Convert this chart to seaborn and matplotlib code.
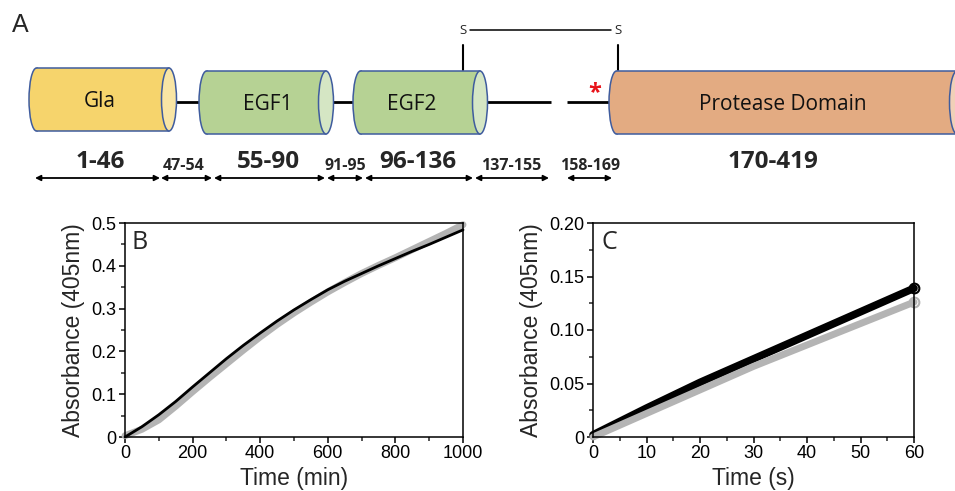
import numpy as np
import pandas as pd
import matplotlib
matplotlib.use("Agg")
import matplotlib.pyplot as plt
from matplotlib.patches import Ellipse, Rectangle
from matplotlib.ticker import FixedLocator, MultipleLocator, FixedFormatter
import seaborn as sns

# ---------------- data ----------------
domain_names = ["Gla", "EGF1", "EGF2", "Protease Domain"]
range_labels = ["1-46", "47-54", "55-90", "91-95", "96-136", "137-155", "158-169", "170-419"]
range_big = [True, False, True, False, True, False, False, True]

b_time = [0, 50, 100, 150, 200, 250, 300, 350, 400, 450, 500,
          550, 600, 650, 700, 750, 800, 850, 900, 950, 1000]
b_black = [0.0, 0.024, 0.052, 0.083, 0.117, 0.150, 0.183, 0.214, 0.243, 0.271, 0.297,
           0.321, 0.344, 0.364, 0.382, 0.400, 0.417, 0.434, 0.450, 0.467, 0.484]
b_gray = [0.003, 0.018, 0.040, 0.072, 0.106, 0.139, 0.171, 0.203, 0.234, 0.263, 0.290,
          0.315, 0.339, 0.361, 0.382, 0.401, 0.419, 0.438, 0.457, 0.476, 0.496]

c_time = [0, 10, 20, 30, 40, 50, 60]
c_black = [0.002, 0.027, 0.051, 0.073, 0.095, 0.117, 0.139]
c_gray = [0.000, 0.022, 0.044, 0.066, 0.086, 0.106, 0.126]

b_yticks = [0, 0.1, 0.2, 0.3, 0.4, 0.5]
b_yticklabels = ["0", "0.1", "0.2", "0.3", "0.4", "0.5"]
b_xticks = [0, 200, 400, 600, 800, 1000]
c_yticks = [0, 0.05, 0.10, 0.15, 0.20]
c_yticklabels = ["0", "0.05", "0.10", "0.15", "0.20"]
c_xticks = [0, 10, 20, 30, 40, 50, 60]

# ---------------- layout / style (pixels) ----------------
W, H = 955, 491
dom_left = [29, 199, 353, 609]
dom_cap = [169, 326, 480, 957]
dom_top = [68, 71, 71, 71]
dom_bot = [131, 134, 134, 134]
dom_label_x = [100, 268, 412, 783]
dom_colors = [("#F6D46C", "#F9E5A4"), ("#B6D294", "#D5E6C4"),
              ("#B6D294", "#D5E6C4"), ("#E3AB82", "#F1D0B8")]
outline = "#3F5C9E"
linkers = [(172, 199), (333, 353), (487, 551), (567, 609)]
arrow_spans = [(35, 160), (161, 212), (214, 325), (327, 363), (365, 473),
               (475, 549), (567, 612), (613, 962)]
arrow_label_x = [100, 184, 268, 345, 418, 511, 590, 773]
DIA_FONT = ["Open Sans", "DejaVu Sans"]

sns.set_theme(style="ticks")
plt.rcParams["font.family"] = ["Liberation Sans", "DejaVu Sans"]

fig = plt.figure(figsize=(W / 100, H / 100), dpi=100)

# ---------- schematic (panel A) ----------
axd = fig.add_axes([0, 0, 1, 1])
axd.set_xlim(0, W)
axd.set_ylim(H, 0)
axd.axis("off")
axd.patch.set_visible(False)

for name, x0, xc, yt, yb, (body, cap), lx in zip(domain_names, dom_left, dom_cap,
                                                  dom_top, dom_bot, dom_colors, dom_label_x):
    cy = (yt + yb) / 2
    h = yb - yt
    ew = 15
    axd.add_patch(Ellipse((x0 + ew / 2, cy), ew, h, facecolor=body, edgecolor=outline, lw=1.1, zorder=2))
    axd.add_patch(Rectangle((x0 + ew / 2, yt), xc - x0 - ew / 2, h, facecolor=body, edgecolor="none", zorder=3))
    axd.plot([x0 + ew / 2, xc], [yt, yt], color=outline, lw=1.1, zorder=4)
    axd.plot([x0 + ew / 2, xc], [yb, yb], color=outline, lw=1.1, zorder=4)
    axd.add_patch(Ellipse((xc, cy), ew, h, facecolor=cap, edgecolor=outline, lw=1.1, zorder=5))
    axd.text(lx, cy + 2, name, ha="center", va="center", fontsize=15,
             family=DIA_FONT, color="#111111", zorder=6)

for a, b in linkers:
    axd.plot([a, b], [102, 102], color="black", lw=2, zorder=1, solid_capstyle="butt")

# disulfide bond
for sx in (463, 618):
    axd.plot([sx, sx], [45, 70], color="black", lw=1.5, zorder=1)
    axd.text(sx, 30, "S", ha="center", va="center", fontsize=9.5, family=DIA_FONT)
axd.plot([470, 611], [30, 30], color="black", lw=1.1)

axd.text(595, 93, "*", ha="center", va="center", fontsize=17, color="#E8141B",
         fontweight="bold", family=DIA_FONT)
axd.text(20, 25, "A", ha="center", va="center", fontsize=18)

for (a, b), lab, big, lx in zip(arrow_spans, range_labels, range_big, arrow_label_x):
    axd.annotate("", xy=(b, 178), xytext=(a, 178),
                 arrowprops=dict(arrowstyle="<|-|>", lw=1.3, color="black",
                                 mutation_scale=8, shrinkA=0, shrinkB=0))
    if big:
        axd.text(lx, 162, lab, ha="center", va="center", fontsize=17.5, fontweight="bold",
                 family=DIA_FONT)
    else:
        axd.text(lx, 166, lab, ha="center", va="center", fontsize=11.5, fontweight="bold",
                 family=DIA_FONT)

# ---------- panels B and C ----------
def style_axes(ax):
    for s in ax.spines.values():
        s.set_visible(True)
        s.set_linewidth(1.1)
        s.set_color("black")
    ax.tick_params(which="major", direction="out", length=4, width=1.1,
                   labelsize=13, colors="black", pad=2)
    ax.tick_params(which="minor", direction="out", length=3, width=1.1)
    ax.grid(False)
    ax.set_facecolor("white")

axB = fig.add_axes([125 / W, 1 - 437 / H, 338 / W, 214 / H])
dfB = pd.DataFrame({"time": b_time * 2, "abs": b_gray + b_black,
                    "trace": ["gray"] * len(b_time) + ["black"] * len(b_time)})
sns.lineplot(data=dfB[dfB.trace == "gray"], x="time", y="abs", ax=axB, color="#B4B4B4",
             lw=5, solid_capstyle="round")
sns.lineplot(data=dfB[dfB.trace == "black"], x="time", y="abs", ax=axB, color="black",
             lw=2)
axB.set_xlim(0, 1000)
axB.set_ylim(0, 0.5)
axB.xaxis.set_major_locator(FixedLocator(b_xticks))
axB.xaxis.set_minor_locator(MultipleLocator(100))
axB.yaxis.set_major_locator(FixedLocator(b_yticks))
axB.yaxis.set_major_formatter(FixedFormatter(b_yticklabels))
axB.yaxis.set_minor_locator(MultipleLocator(0.05))
style_axes(axB)
axB.set_xlabel("Time (min)", fontsize=16.5, labelpad=3)
axB.set_ylabel("Absorbance (405nm)", fontsize=16.5, labelpad=5)
axB.text(0.02, 0.965, "B", transform=axB.transAxes, ha="left", va="top", fontsize=18,
         family=DIA_FONT)
for l in axB.lines:
    l.set_clip_on(False)

axC = fig.add_axes([593 / W, 1 - 437 / H, 321 / W, 214 / H])
dfC = pd.DataFrame({"time": c_time * 2, "abs": c_gray + c_black,
                    "trace": ["gray"] * len(c_time) + ["black"] * len(c_time)})
sns.lineplot(data=dfC[dfC.trace == "black"], x="time", y="abs", ax=axC, color="black",
             lw=5.5)
sns.lineplot(data=dfC[dfC.trace == "gray"], x="time", y="abs", ax=axC, color="#B4B4B4",
             lw=5)
axC.plot(c_time[-1:], c_gray[-1:], marker="o", ms=7, mfc="none", mec="#B4B4B4", mew=1.5, clip_on=False)
axC.plot(c_time[-1:], c_black[-1:], marker="o", ms=7, mfc="none", mec="black", mew=1.5, clip_on=False)
axC.set_xlim(0, 60)
axC.set_ylim(0, 0.20)
axC.xaxis.set_major_locator(FixedLocator(c_xticks))
axC.xaxis.set_minor_locator(MultipleLocator(5))
axC.yaxis.set_major_locator(FixedLocator(c_yticks))
axC.yaxis.set_major_formatter(FixedFormatter(c_yticklabels))
axC.yaxis.set_minor_locator(MultipleLocator(0.025))
style_axes(axC)
axC.set_xlabel("Time (s)", fontsize=16.5, labelpad=3)
axC.set_ylabel("Absorbance (405nm)", fontsize=16.5, labelpad=5)
axC.text(0.025, 0.965, "C", transform=axC.transAxes, ha="left", va="top", fontsize=18,
         family=DIA_FONT)
for l in axC.lines:
    l.set_clip_on(False)

fig.savefig("out.png", dpi=100)
